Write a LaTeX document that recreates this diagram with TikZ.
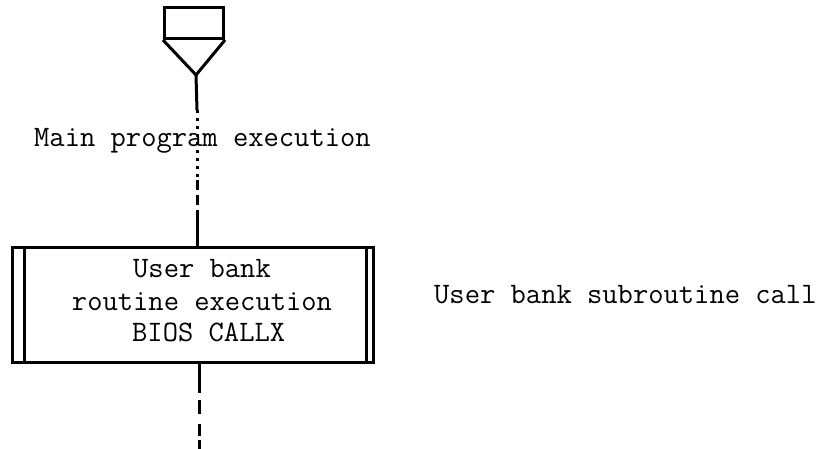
\documentclass[tikz,border=0pt]{standalone}
\usepackage{fontspec}
\begin{document}
\begin{tikzpicture}[x=1pt,y=-1pt,
  thickline/.style={line width=3pt},
  lbl/.style={font=\fontsize{29.7}{31.5}\selectfont\ttfamily, inner sep=0pt, anchor=base west}]
\useasboundingbox (0,0) rectangle (833,449);
% terminal symbol at top
\node[draw, thickline, minimum width=59pt, minimum height=31pt, inner sep=0pt, anchor=north west] (top) at (163,6) {};
\coordinate (apex) at (196,75);
\draw[thickline, line join=miter] (top.south west) -- (apex) -- (top.south east);
% process box
\node[draw, thickline, minimum width=361pt, minimum height=115pt, inner sep=0pt, anchor=north west] (box) at (11,246) {};
\draw[thickline] ([xshift=13pt]box.north west) -- ([xshift=13pt]box.south west);
\draw[thickline] ([xshift=-9pt]box.north east) -- ([xshift=-9pt]box.south east);
\node[lbl, anchor=base] (l1) at (202,278) {User bank};
\node[lbl, anchor=base] (l2) at (202,310) {routine execution};
\node[lbl] (l3) at (132,341) {BIOS CALLX};
% labels
\node[lbl] (main) at (34,147) {Main program execution};
\node[lbl] (call) at (434,303) {User bank subroutine call};
% connector from top symbol to box
\coordinate (d1) at (197,110);
\coordinate (d2) at (197,180);
\coordinate (d3) at (197,216);
\draw[thickline] (apex) -- (d1);
\draw[thickline, dash pattern=on 3pt off 5pt] (d1) -- (d2);
\draw[thickline, dash pattern=on 10pt off 5pt] (d2) -- (d3);
\draw[thickline] (d3) -- (d3 |- box.north);
% connector below box
\coordinate (b1) at (199,393);
\coordinate (b2) at (199,449);
\draw[thickline] (b1 |- box.south) -- (b1);
\draw[thickline, dash pattern=on 0pt off 7pt on 14pt off 10pt on 12pt off 4pt on 9pt off 10pt] (b1) -- (b2);
\end{tikzpicture}
\end{document}
